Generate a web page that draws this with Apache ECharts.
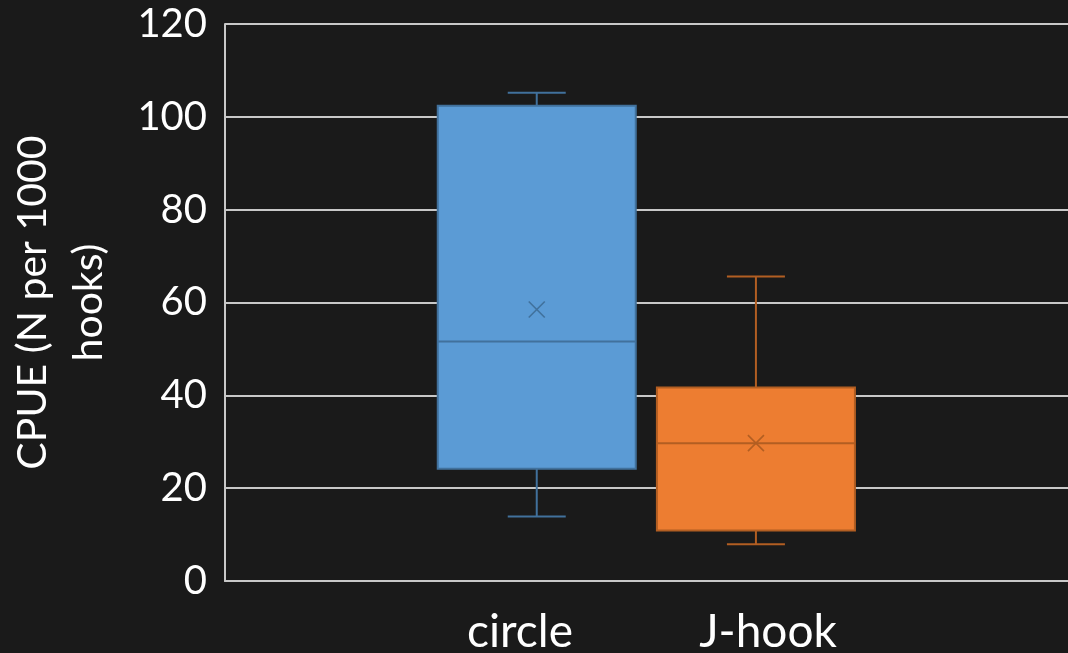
<!DOCTYPE html>
<html>
<head>
<meta charset="utf-8">
<title>CPUE by hook type</title>
<script src="https://cdn.jsdelivr.net/npm/echarts@6/dist/echarts.min.js"></script>
<style>
  html, body { margin: 0; padding: 0; background: #1a1a1a; }
  #chart { width: 1068px; height: 653px; }
</style>
</head>
<body>
<div id="chart"></div>
<script>
// Hook types and their CPUE summary statistics (N per 1000 hooks)
const categories = ['circle', 'J-hook'];
const minVals    = [13.9, 7.9];
const q1Vals     = [24.2, 10.9];
const medianVals = [51.6, 29.7];
const q3Vals     = [102.4, 41.7];
const maxVals    = [105.2, 65.6];
const meanVals   = [58.5, 29.7];

// Y axis ticks
const yMin = 0;
const yMax = 120;
const yStep = 20;

const fills   = ['#5B9BD5', '#ED7D31'];
const strokes = ['#41719C', '#B25E22'];

// Both boxes share one category slot, placed side by side like clustered bars
const slotOffset = [-0.1302, 0.1298];
const boxFrac = 0.2349;
const capFrac = 0.0688;

const FONT = 'Lato, "Open Sans", sans-serif';

function renderBox(params, api) {
  const i = params.seriesIndex;
  const center = api.coord([api.value(0), 0])[0];
  const band = api.size([1, 0])[0];
  const cx = center + slotOffset[i] * band;
  const half = boxFrac * band / 2;
  const capHalf = capFrac * band / 2;
  const y = v => api.coord([api.value(0), v])[1];
  const yLo = y(api.value(1)), yQ1 = y(api.value(2)), yMed = y(api.value(3));
  const yQ3 = y(api.value(4)), yHi = y(api.value(5)), yMean = y(api.value(6));
  const lineStyle = { stroke: strokes[i], lineWidth: 2 };
  const m = 8;
  return {
    type: 'group',
    children: [
      { type: 'line', shape: { x1: cx, y1: yHi, x2: cx, y2: yQ3 }, style: lineStyle },
      { type: 'line', shape: { x1: cx - capHalf, y1: yHi, x2: cx + capHalf, y2: yHi }, style: lineStyle },
      { type: 'line', shape: { x1: cx, y1: yQ1, x2: cx, y2: yLo }, style: lineStyle },
      { type: 'line', shape: { x1: cx - capHalf, y1: yLo, x2: cx + capHalf, y2: yLo }, style: lineStyle },
      { type: 'rect', shape: { x: cx - half, y: yQ3, width: half * 2, height: yQ1 - yQ3 },
        style: { fill: fills[i], stroke: strokes[i], lineWidth: 2 } },
      { type: 'line', shape: { x1: cx - half, y1: yMed, x2: cx + half, y2: yMed }, style: lineStyle },
      { type: 'line', shape: { x1: cx - m, y1: yMean - m, x2: cx + m, y2: yMean + m },
        style: { stroke: strokes[i], lineWidth: 1.6 } },
      { type: 'line', shape: { x1: cx - m, y1: yMean + m, x2: cx + m, y2: yMean - m },
        style: { stroke: strokes[i], lineWidth: 1.6 } }
    ]
  };
}

const series = categories.map((name, i) => ({
  name: name,
  type: 'custom',
  xAxisIndex: 0,
  yAxisIndex: 0,
  renderItem: renderBox,
  encode: { x: 0, y: [1, 2, 3, 4, 5, 6] },
  data: [[0, minVals[i], q1Vals[i], medianVals[i], q3Vals[i], maxVals[i], meanVals[i]]],
  z: 3
}));

const chart = echarts.init(document.getElementById('chart'), null, { renderer: 'canvas' });
chart.setOption({
  backgroundColor: '#1a1a1a',
  animation: false,
  grid: [
    { left: 225, right: 0, top: 24, bottom: 72, containLabel: false, outerBoundsMode: 'none' },
    { left: 396, right: 176, top: 24, bottom: 72, containLabel: false, outerBoundsMode: 'none' }
  ],
  xAxis: [
    {
      gridIndex: 0,
      type: 'category',
      data: [''],
      axisLine: { show: true, lineStyle: { color: '#c8c8c8', width: 2 } },
      axisTick: { show: false },
      axisLabel: { show: false }
    },
    {
      gridIndex: 1,
      type: 'category',
      data: categories,
      axisLine: { show: false },
      axisTick: { show: false },
      axisLabel: { color: '#ffffff', fontFamily: FONT, fontSize: 46, margin: 28 }
    }
  ],
  yAxis: [
    {
      gridIndex: 0,
      type: 'value',
      min: yMin,
      max: yMax,
      interval: yStep,
      name: 'CPUE (N per 1000\nhooks)',
      nameLocation: 'middle',
      nameRotate: 90,
      nameGap: 108,
      nameTextStyle: { color: '#ffffff', fontFamily: FONT, fontSize: 41, lineHeight: 56, align: 'center' },
      axisLine: { show: true, lineStyle: { color: '#c8c8c8', width: 2 } },
      axisTick: { show: false },
      axisLabel: { color: '#ffffff', fontFamily: FONT, fontSize: 40, margin: 18 },
      splitLine: { show: true, lineStyle: { color: '#c8c8c8', width: 2 } }
    },
    {
      gridIndex: 1,
      type: 'value',
      min: yMin,
      max: yMax,
      show: false
    }
  ],
  series: series
});
</script>
</body>
</html>
